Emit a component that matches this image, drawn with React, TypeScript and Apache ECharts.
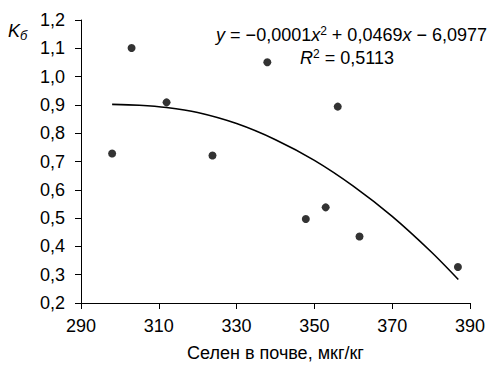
import React, { useEffect, useRef } from "react";
import * as echarts from "echarts";

// Scatter data: selenium in soil (x) vs Kб (y)
const seleniumX = [298, 303, 312, 323.8, 337.9, 347.8, 352.9, 356, 361.6, 386.9];
const kValues = [0.728, 1.101, 0.909, 0.721, 1.051, 0.497, 0.538, 0.894, 0.435, 0.327];

// Polynomial trendline, points
const trendX = [298, 305, 312, 320, 330, 340, 350, 360, 370, 380, 387];
const trendY = [0.902, 0.899, 0.891, 0.873, 0.834, 0.777, 0.704, 0.613, 0.506, 0.381, 0.283];

const xTicks = { min: 290, max: 390, interval: 20 };
const yTicks = { min: 0.2, max: 1.2, interval: 0.1 };

const xTitle = "Селен в почве, мкг/кг";
const FONT = "'Liberation Sans', Arial, sans-serif";
const FS = 18;

export default function App() {
  const ref = useRef<HTMLDivElement>(null);
  useEffect(() => {
    if (!ref.current) return;
    const chart = echarts.init(ref.current, undefined, { renderer: "svg" });
    const axisLine = { show: true, lineStyle: { color: "#000", width: 1 } };
    chart.setOption({
      animation: false,
      textStyle: { fontFamily: FONT },
      grid: { left: 73, right: 16, top: 12, bottom: 51 },
      xAxis: {
        type: "value",
        min: xTicks.min,
        max: xTicks.max,
        interval: xTicks.interval,
        axisLine,
        axisTick: { show: true, length: 6, lineStyle: { color: "#000" } },
        splitLine: { show: false },
        axisLabel: { color: "#000", fontSize: FS, fontFamily: FONT, margin: 14 },
        name: xTitle,
        nameLocation: "middle",
        nameGap: 41,
        nameTextStyle: { color: "#000", fontSize: FS, fontFamily: FONT },
      },
      yAxis: {
        type: "value",
        min: yTicks.min,
        max: yTicks.max,
        interval: yTicks.interval,
        axisLine,
        axisTick: { show: true, length: 6, lineStyle: { color: "#000" } },
        splitLine: { show: false },
        axisLabel: {
          color: "#000",
          fontSize: FS,
          fontFamily: FONT,
          margin: 16,
          formatter: (v: number) => v.toFixed(1).replace(".", ","),
        },
      },
      graphic: [
        {
          type: "text",
          left: 0,
          top: 14,
          style: {
            text: "{k|K}{s|б}",
            rich: {
              k: { fontSize: FS, fontStyle: "italic", fontFamily: FONT, fill: "#000" },
              s: { fontSize: 13, fontStyle: "italic", fontFamily: FONT, fill: "#000", padding: [8, 0, 0, 0] },
            },
          },
        },
        {
          type: "text",
          right: 1,
          top: 17,
          style: {
            text: "{i|y} = −0,0001{i|x}{s|2} + 0,0469{i|x} − 6,0977",
            fontSize: FS,
            fontFamily: FONT,
            fill: "#000",
            rich: {
              i: { fontSize: FS, fontStyle: "italic", fontFamily: FONT, fill: "#000" },
              s: { fontSize: 12, fontFamily: FONT, fill: "#000", padding: [0, 0, 8, 0] },
            },
          },
        },
        {
          type: "text",
          left: 292,
          top: 40,
          style: {
            text: "{i|R}{s|2} = 0,5113",
            fontSize: FS,
            fontFamily: FONT,
            fill: "#000",
            rich: {
              i: { fontSize: FS, fontStyle: "italic", fontFamily: FONT, fill: "#000" },
              s: { fontSize: 12, fontFamily: FONT, fill: "#000", padding: [0, 0, 8, 0] },
            },
          },
        },
      ],
      series: [
        {
          type: "line",
          data: trendX.map((x, i) => [x, trendY[i]]),
          smooth: 0.3,
          showSymbol: false,
          lineStyle: { color: "#000", width: 1.6 },
          z: 2,
        },
        {
          type: "scatter",
          data: seleniumX.map((x, i) => [x, kValues[i]]),
          symbol: "circle",
          symbolSize: 8,
          itemStyle: { color: "#000" },
          z: 3,
        },
      ],
    });
    return () => chart.dispose();
  }, []);
  return <div ref={ref} style={{ width: 480, height: 359 }} />;
}
